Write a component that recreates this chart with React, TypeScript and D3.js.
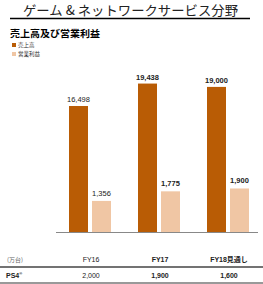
import React from "react";
import * as d3 from "d3";

const categories = ["FY16", "FY17", "FY18見通し"];
const sales = [16498, 19438, 19000];
const profit = [1356, 1775, 1900];
const salesLabels = ["16,498", "19,438", "19,000"];
const profitLabels = ["1,356", "1,775", "1,900"];
const ps4Units = ["2,000", "1,900", "1,600"];
const boldCols = [false, true, true];

const ORANGE = "#b95c05";
const LIGHT = "#f0c6a4";
const FONT = "'Liberation Sans', Arial, 'Noto Sans CJK JP', sans-serif";
const JFONT = "'Noto Sans CJK JP', sans-serif";

export default function App() {
  const W = 263, H = 284;
  const base = 232;
  const x = d3.scaleBand<string>().domain(categories).range([58, 265]);
  const yS = d3.scaleLinear().domain([0, 22000]).range([base, 64]);
  const yP = d3.scaleLinear().domain([0, 7333]).range([base, 64]);
  const bw = 19;
  const oOff = 11, pOff = 34, cOff = 33;
  return (
    <svg width={W} height={H} style={{ position: "absolute", left: 0, top: 0, background: "#fff" }} fontFamily={FONT}>
      <text x={130.5} y={14.5} textAnchor="middle" fontSize={13} fill="#222" fontFamily={JFONT} textLength={215} lengthAdjust="spacingAndGlyphs">ゲーム &amp; ネットワークサービス分野</text>
      <line x1={10} x2={250} y1={18.5} y2={18.5} stroke="#000" strokeWidth={1.4} />
      <text x={10} y={37} fontSize={9.6} fontWeight="bold" fill="#000" fontFamily={JFONT} textLength={90} lengthAdjust="spacingAndGlyphs">売上高及び営業利益</text>
      <rect x={12} y={43} width={4} height={4} fill={ORANGE} />
      <text x={18} y={47} fontSize={5.5} fill="#333" fontFamily={JFONT}>売上高</text>
      <rect x={12} y={52} width={4} height={4} fill={LIGHT} />
      <text x={18} y={56} fontSize={5.5} fill="#333" fontFamily={JFONT}>営業利益</text>
      {categories.map((c, i) => {
        const x0 = x(c) as number;
        const fw = boldCols[i] ? "bold" : "normal";
        return (
          <g key={c}>
            <rect x={x0 + oOff} y={yS(sales[i])} width={bw} height={base - yS(sales[i])} fill={ORANGE} />
            <rect x={x0 + pOff} y={yP(profit[i])} width={bw} height={base - yP(profit[i])} fill={LIGHT} />
            <text x={x0 + oOff + bw / 2} y={yS(sales[i]) - 4} textAnchor="middle" fontSize={7.5} fontWeight={fw} fill="#222">{salesLabels[i]}</text>
            <text x={x0 + pOff + bw / 2} y={yP(profit[i]) - 5} textAnchor="middle" fontSize={7.5} fontWeight={fw} fill="#222">{profitLabels[i]}</text>
            <text x={x0 + cOff} y={261.5} textAnchor="middle" fontSize={7} fontWeight={fw} fill="#222">{c}</text>
            <text x={x0 + cOff} y={277.5} textAnchor="middle" fontSize={7} fontWeight={fw} fill="#222">{ps4Units[i]}</text>
          </g>
        );
      })}
      <line x1={56} x2={258} y1={base + 0.5} y2={base + 0.5} stroke="#888" strokeWidth={1} />
      <text x={7} y={261.5} fontSize={6} fill="#666" fontFamily={JFONT}>(万台)</text>
      <line x1={0} x2={263} y1={267} y2={267} stroke="#444" strokeWidth={1.5} />
      <text x={6} y={277.5} fontSize={7} fontWeight="bold" fill="#222">PS4<tspan fontSize={4} dy={-3}>®</tspan></text>
      <line x1={0} x2={263} y1={283} y2={283} stroke="#999" strokeWidth={2} />
    </svg>
  );
}
